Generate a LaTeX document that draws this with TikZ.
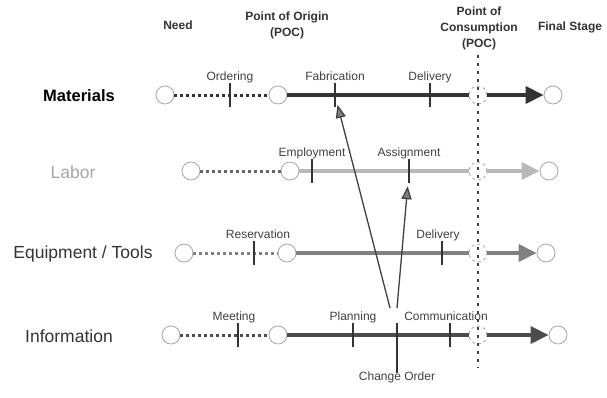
\documentclass[tikz,border=0pt]{standalone}
\usepackage{fontspec}
\setmainfont{Liberation Sans}
\usetikzlibrary{arrows.meta,positioning}

\begin{document}
\begin{tikzpicture}[x=1pt, y=-1pt,
  end node/.style={circle,draw=gray!70,line width=0.8pt,minimum size=18pt,inner sep=0pt},
  poc node/.style={end node,dashed},
  tick node/.style={fill=black!80,minimum width=2.2pt,minimum height=24pt,inner sep=0pt,label distance=7pt},
  head/.style={font=\bfseries\fontsize{12}{16}\selectfont,text=black!80,align=center},
  row/.style={font=\fontsize{17.5}{20}\selectfont,text=black!80},
  every label/.style={font=\fontsize{12}{14}\selectfont,text=black!75,text height=0.75em,text depth=0.25em,inner sep=0pt},
  wait/.style={line width=3pt,dash pattern=on 3pt off 3pt},
  flow/.style={line width=3.5pt},
  go/.style={flow,-{Triangle[length=18pt,width=17pt]}},
  cause/.style={line width=1.3pt,draw=black!75,-{Triangle[length=13pt,width=10pt,fill=gray]}}]

  \useasboundingbox (0,0) rectangle (607,397);

  % headings
  \node[head] (need) at (178,25) {Need};
  \node[head] (poo) at (287,25) {Point of Origin\\(POC)};
  \node[head] (poc) at (479,28) {Point of\\Consumption\\(POC)};
  \node[head] (final) at (570,27) {Final Stage};

  % Materials
  \node[row,font=\bfseries\fontsize{16.5}{20}\selectfont,text=black] (mat) at (79,96) {Materials};
  \node[end node] (n1) at (165,95) {};
  \node[end node] (o1) at (278,95) {};
  \node[poc node] (c1) at (478,95) {};
  \node[end node] (f1) at (553,95) {};
  \draw[wait,black!80] (n1) -- (o1);
  \draw[flow,black!80] (o1) -- (c1);
  \draw[go,black!80] (c1) -- (f1);
  \node[tick node,label=above:Ordering] (t1) at (230,95) {};
  \node[tick node,label=above:Fabrication] (t2) at (335,95) {};
  \node[tick node,label=above:Delivery] (t3) at (430,95) {};

  % Labor
  \node[row,text=gray!70] (lab) at (73,172) {Labor};
  \node[end node] (n2) at (191,171) {};
  \node[end node] (o2) at (290,171) {};
  \node[poc node] (c2) at (478,171) {};
  \node[end node] (f2) at (549,171) {};
  \draw[wait,black!60] (n2) -- (o2);
  \draw[flow,gray!55] (o2) -- (c2);
  \draw[go,gray!55] (c2) -- (f2);
  \node[tick node,label=above:Employment] (t4) at (312,171) {};
  \node[tick node,label=above:Assignment] (t5) at (409,171) {};

  % Equipment / Tools
  \node[row] (eq) at (83,254) {Equipment / Tools};
  \node[end node] (n3) at (184,253) {};
  \node[end node] (o3) at (287,253) {};
  \node[poc node] (c3) at (478,253) {};
  \node[end node] (f3) at (546,253) {};
  \draw[wait,gray] (n3) -- (o3);
  \draw[flow,gray] (o3) -- (c3);
  \draw[go,gray] (c3) -- (f3);
  \node[tick node,label={[xshift=4pt]above:Reservation}] (t6) at (254,253) {};
  \node[tick node,label={[xshift=-4pt]above:Delivery}] (t7) at (442,253) {};

  % Information
  \node[row] (inf) at (69,336) {Information};
  \node[end node] (n4) at (171,335) {};
  \node[end node] (o4) at (278,335) {};
  \node[poc node] (c4) at (478,335) {};
  \node[end node] (f4) at (558,335) {};
  \draw[wait,black!70] (n4) -- (o4);
  \draw[flow,black!70] (o4) -- (c4);
  \draw[go,black!70] (c4) -- (f4);
  \node[tick node,label={[xshift=-4pt]above:Meeting}] (t8) at (238,335) {};
  \node[tick node,label=above:Planning] (t9) at (353,335) {};
  \node[tick node,minimum height=50pt,label=below:Change Order] (t10) at (397,348) {};
  \node[tick node,label={[xshift=-4pt]above:Communication}] (t11) at (450,335) {};

  % point of consumption
  \coordinate (top) at (478,55);
  \coordinate (bot) at (478,368);
  \draw[line width=2.6pt,dash pattern=on 2.6pt off 5.4pt,black!75] (top) -- (bot);

  % change order
  \coordinate (co1) at (390,308);
  \coordinate (co2) at (397,308);
  \draw[cause,shorten >=5pt] (co1) -- (t2);
  \draw[cause,shorten >=3pt] (co2) -- (t5);
\end{tikzpicture}
\end{document}
